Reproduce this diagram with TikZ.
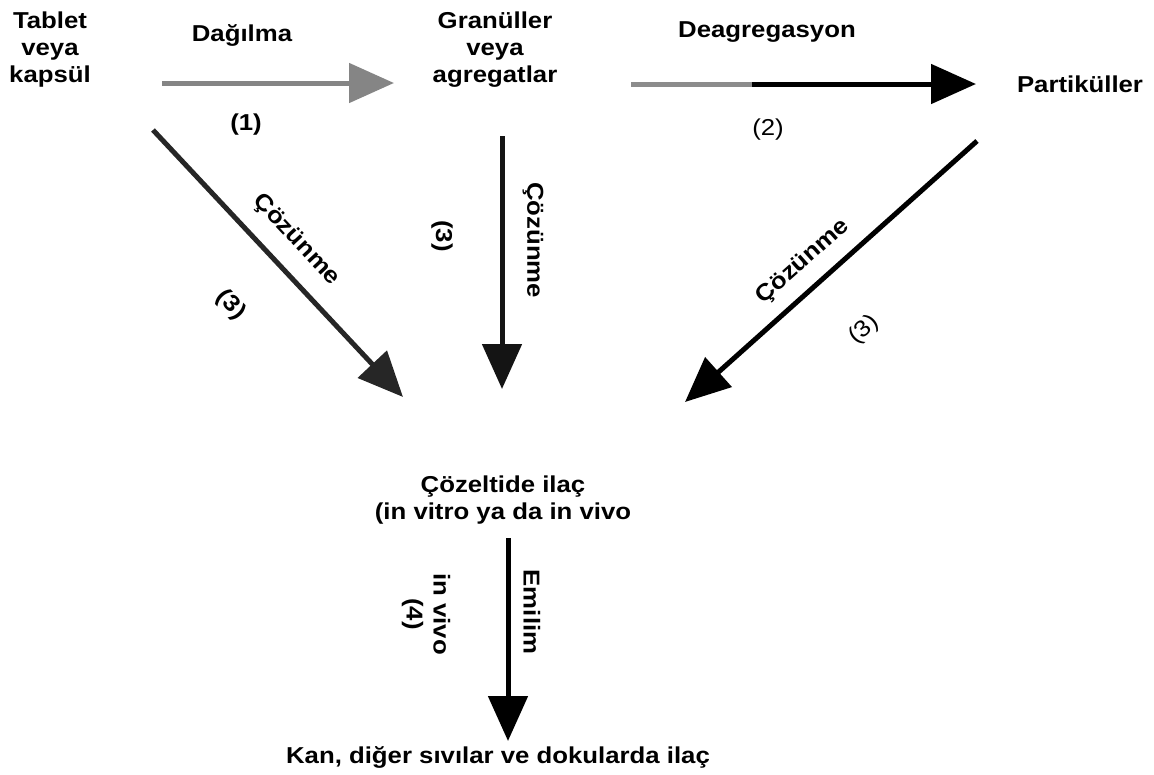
\documentclass[tikz,border=0pt]{standalone}
\usepackage{fontspec}
\setmainfont{Liberation Sans}[FakeStretch=1.12]
\usetikzlibrary{arrows.meta,calc}
\tikzset{
  lbl/.style={font=\bfseries\fontsize{23}{27}\selectfont, inner sep=0pt, align=center},
  num/.style={font=\fontsize{23}{27}\selectfont, inner sep=0pt},
  arr/.style={line width=5pt, -{Triangle[length=45pt,width=39pt]}},
}
\begin{document}
\begin{tikzpicture}[x=1pt,y=-1pt]
\useasboundingbox (0,0) rectangle (1154,774);
% nodes
\node[lbl] (tab) at (50,50) {Tablet\\veya\\kapsül};
\node[lbl] (gran) at (495,50) {Granüller\\veya\\agregatlar};
\node[lbl] (part) at (1080,84) {Partiküller};
\node[lbl] (coz) at (503,500) {Çözeltide ilaç\\(in vitro ya da in vivo};
\node[lbl] (kan) at (498,757) {Kan, diğer sıvılar ve dokularda ilaç};
% arrow end points
\coordinate (a1s) at (162,83);
\coordinate (a1e) at (394,83);
\coordinate (a2s) at (631,84);
\coordinate (a2e) at (976,84);
\coordinate (a3as) at (153,130);
\coordinate (a3ae) at (403,397);
\coordinate (a3bs) at (502,136);
\coordinate (a3be) at (502,389);
\coordinate (a3cs) at (977,141);
\coordinate (a3ce) at (685,402);
\coordinate (a4s) at (508,538);
\coordinate (a4e) at (508,741);
% arrows
\draw[arr, draw=black!48, fill=black!65] (a1s) -- (a1e);
\draw[arr, draw=black, fill=black!85] (a2s) -- (a2e);
\draw[line width=5pt, black!45] (a2s) -- ($(a2s)!0.35!(a2e)$);
\draw[arr, draw=black!85, fill=black!62] (a3as) -- (a3ae);
\draw[arr, draw=black!92, fill=black!60] (a3bs) -- (a3be);
\draw[arr, draw=black, fill=black] (a3cs) -- (a3ce);
\draw[arr, draw=black, fill=black] (a4s) -- (a4e);
% labels
\node[lbl] (l1) at (242,35) {Dağılma};
\node[lbl] (n1) at (246,125) {(1)};
\node[lbl] (l2) at (767,32) {Deagregasyon};
\node[num] (n2) at (768,130) {(2)};
\node[lbl, rotate=-47] (l3a) at (296,240) {Çözünme};
\node[lbl, rotate=-47] (n3a) at (231,305) {(3)};
\node[lbl, rotate=-90] (l3b) at (533,240) {Çözünme};
\node[lbl, rotate=-90] (n3b) at (442,236) {(3)};
\node[lbl, rotate=41.7] (l3c) at (803,262) {Çözünme};
\node[num, rotate=41.7] (n3c) at (864,330) {(3)};
\node[lbl, rotate=-90] (l4) at (532,612) {Emilim};
\node[lbl, rotate=-90] (v4) at (426,614) {in vivo\\(4)};
\end{tikzpicture}
\end{document}
